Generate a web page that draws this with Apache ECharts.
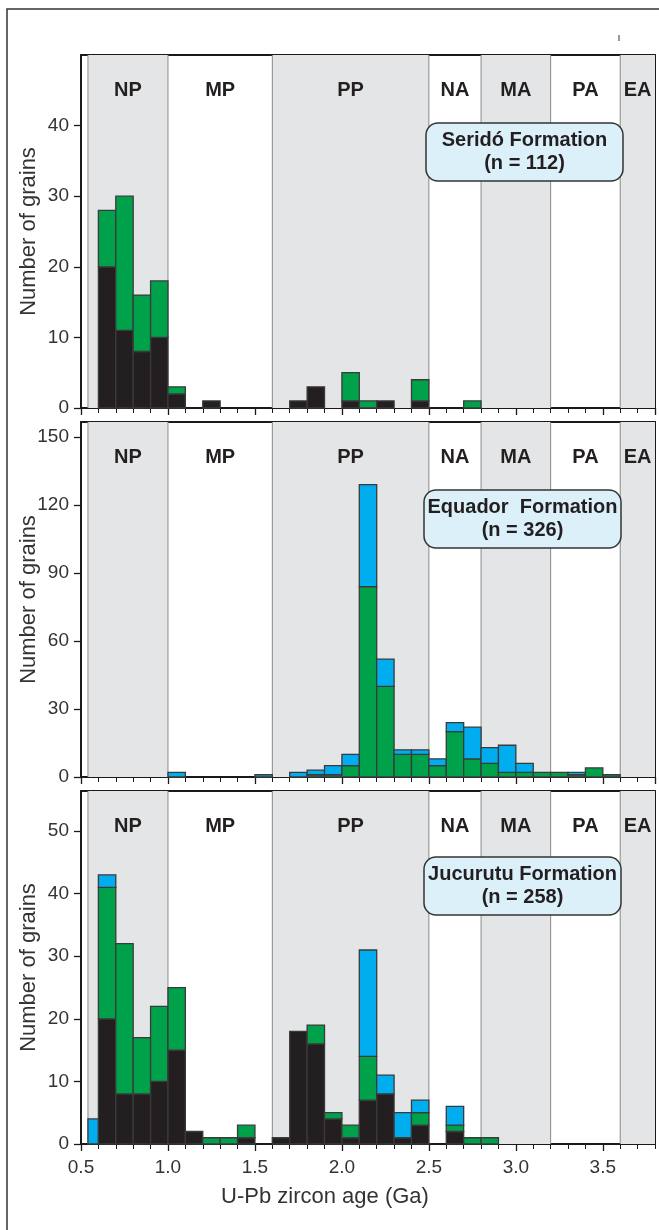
<!DOCTYPE html>
<html><head><meta charset="utf-8">
<script src="https://cdn.jsdelivr.net/npm/echarts@6.0.0/dist/echarts.min.js"></script>
<style>html,body{margin:0;padding:0;background:#fff}#c{width:659px;height:1230px}</style>
</head><body><div id="c"></div>
<script>
// ---- data ----
const binLo = [0.54,0.6,0.7,0.8,0.9,1.0,1.1,1.2,1.3,1.4,1.5,1.6,1.7,1.8,1.9,2.0,2.1,2.2,2.3,2.4,2.5,2.6,2.7,2.8,2.9,3.0,3.1,3.2,3.3,3.4,3.5];
const binHi = [0.6,0.7,0.8,0.9,1.0,1.1,1.2,1.3,1.4,1.5,1.6,1.7,1.8,1.9,2.0,2.1,2.2,2.3,2.4,2.5,2.6,2.7,2.8,2.9,3.0,3.1,3.2,3.3,3.4,3.5,3.6];

const seridoBlack = [0,20,11,8,10,2,0,1,0,0,0,0,1,3,0,1,0,1,0,1,0,0,0,0,0,0,0,0,0,0,0];
const seridoGreen = [0,8,19,8,8,1,0,0,0,0,0,0,0,0,0,4,1,0,0,3,0,0,1,0,0,0,0,0,0,0,0];
const seridoBlue  = [0,0,0,0,0,0,0,0,0,0,0,0,0,0,0,0,0,0,0,0,0,0,0,0,0,0,0,0,0,0,0];

const equadorBlack = [0,0,0,0,0,0,0,0,0,0,0,0,0,0,0,0,0,0,0,0,0,0,0,0,0,0,0,0,0,0,0];
const equadorGreen = [0,0,0,0,0,0,0,0,0,0,0,0,0,1,1,5,84,40,10,10,5,20,8,6,2,2,2,2,1,4,1];
const equadorBlue  = [0,0,0,0,0,2,0,0,0,0,1,0,2,2,4,5,45,12,2,2,3,4,14,7,12,4,0,0,1,0,0];

const jucurutuBlack = [0,20,8,8,10,15,2,0,0,1,0,1,18,16,4,1,7,8,1,3,0,2,0,0,0,0,0,0,0,0,0];
const jucurutuGreen = [0,21,24,9,12,10,0,1,1,2,0,0,0,3,1,2,7,0,0,2,0,1,1,1,0,0,0,0,0,0,0];
const jucurutuBlue  = [4,2,0,0,0,0,0,0,0,0,0,0,0,0,0,0,17,3,4,2,0,3,0,0,0,0,0,0,0,0,0];

const bandStart = [0.54,1.0,1.6,2.5,2.8,3.2,3.6];
const bandEnd   = [1.0,1.6,2.5,2.8,3.2,3.6,3.8];
const bandLabel = ['NP','MP','PP','NA','MA','PA','EA'];
const bandShaded = [1,0,1,0,1,0,1];

const xTickLabels = ['0.5','1.0','1.5','2.0','2.5','3.0','3.5'];
const panelNames = ['Seridó Formation\n(n = 112)','Equador  Formation\n(n = 326)','Jucurutu Formation\n(n = 258)'];
const yMaxes = [50, 156.6, 56.4];
const yMajor = [10, 30, 10];
const yMinor = [2, 10, 2];

// ---- styling ----
const BLACK='#231f20', GREEN='#00a14b', BLUE='#00aeef', EDGE='#3a3a3a';
const FONT='"Liberation Sans", Arial, sans-serif';
const tops=[55,422,791], heights=[353,355,353];

const panels=[[seridoBlack,seridoGreen,seridoBlue],[equadorBlack,equadorGreen,equadorBlue],[jucurutuBlack,jucurutuGreen,jucurutuBlue]];

const chart=echarts.init(document.getElementById('c'),null,{renderer:'canvas'});
const grid=[],xAxis=[],yAxis=[],series=[];
for(let g=0;g<3;g++){
  grid.push({left:81,right:4,top:tops[g],height:heights[g],containLabel:false,outerBoundsMode:'none'});
  // major x
  xAxis.push({gridIndex:g,type:'value',min:0.5,max:3.8,interval:0.5,
    axisLine:{show:true,onZero:false,lineStyle:{color:'#1a1a1a',width:2}},
    axisTick:{show:true,inside:false,length:7,lineStyle:{color:'#1a1a1a',width:1.3}},
    axisLabel:{show:g===2,margin:14,fontSize:19,color:'#333',fontFamily:FONT,showMaxLabel:false,showMinLabel:true,
      formatter:function(v){const i=Math.round((v-0.5)/0.5);return xTickLabels[i]!==undefined && Math.abs(v-(0.5+i*0.5))<1e-6?xTickLabels[i]:'';}},
    splitLine:{show:false}});
  // minor x
  xAxis.push({gridIndex:g,type:'value',min:0.5,max:3.8,interval:0.1,
    axisLine:{show:false},axisTick:{show:true,inside:true,length:5,lineStyle:{color:'#1a1a1a',width:1}},
    axisLabel:{show:false},splitLine:{show:false}});
  // top border
  xAxis.push({gridIndex:g,type:'value',position:'top',min:0.5,max:3.8,
    axisLine:{show:true,onZero:false,lineStyle:{color:'#1a1a1a',width:2}},axisTick:{show:false},axisLabel:{show:false},splitLine:{show:false}});
  // major y
  yAxis.push({gridIndex:g,type:'value',min:0,max:yMaxes[g],interval:yMajor[g],
    name:'Number of grains',nameLocation:'middle',nameGap:41,nameMoveOverlap:false,
    nameTextStyle:{fontSize:22,color:'#333',fontFamily:FONT},
    axisLine:{show:true,onZero:false,lineStyle:{color:'#1a1a1a',width:2}},
    axisTick:{show:true,inside:false,length:7,lineStyle:{color:'#1a1a1a',width:1.3}},
    axisLabel:{margin:12,fontSize:19,color:'#333',fontFamily:FONT,showMaxLabel:false},
    splitLine:{show:false}});
  // minor y
  yAxis.push({gridIndex:g,type:'value',min:0,max:yMaxes[g],interval:yMinor[g],
    axisLine:{show:false},axisTick:{show:true,inside:true,length:6,lineStyle:{color:'#1a1a1a',width:1}},
    axisLabel:{show:false},splitLine:{show:false}});
  // right border
  yAxis.push({gridIndex:g,type:'value',position:'right',min:0,max:yMaxes[g],
    axisLine:{show:true,onZero:false,lineStyle:{color:'#1a1a1a',width:2}},axisTick:{show:false},axisLabel:{show:false},splitLine:{show:false}});

  // bands
  series.push({type:'custom',xAxisIndex:g*3,yAxisIndex:g*3,z:1,silent:true,
    data:bandStart.map((s,i)=>[s,bandEnd[i],bandShaded[i]]),
    encode:{x:[0,1]},
    renderItem:function(params,api){
      const cs=params.coordSys;
      const x0=api.coord([api.value(0),0])[0], x1=api.coord([api.value(1),0])[0];
      const children=[];
      if(api.value(2)) children.push({type:'rect',shape:{x:x0,y:cs.y,width:x1-x0,height:cs.height},style:{fill:'#e4e5e7'}});
      children.push({type:'line',shape:{x1:x0,y1:cs.y,x2:x0,y2:cs.y+cs.height},style:{stroke:'#8a8a8a',lineWidth:1}});
      children.push({type:'text',style:{text:bandLabel[params.dataIndex],x:(x0+x1)/2,y:cs.y+35,align:'center',verticalAlign:'middle',
        font:'bold 20px '+FONT,fill:'#231f20'}});
      return {type:'group',children};
    }});
  // stacked histogram
  const [bk,gr,bl]=panels[g];
  series.push({type:'custom',xAxisIndex:g*3,yAxisIndex:g*3,z:3,silent:true,
    data:binLo.map((lo,i)=>[lo,binHi[i],bk[i],gr[i],bl[i]]),
    encode:{x:[0,1],y:[2]},
    renderItem:function(params,api){
      const lo=api.value(0),hi=api.value(1);
      const vals=[api.value(2),api.value(3),api.value(4)];
      const cols=[BLACK,GREEN,BLUE];
      let base=0;const children=[];
      for(let k=0;k<3;k++){
        const v=vals[k]; if(!v) continue;
        const p0=api.coord([lo,base]), p1=api.coord([hi,base+v]);
        children.push({type:'rect',shape:{x:p0[0],y:p1[1],width:p1[0]-p0[0],height:p0[1]-p1[1]},
          style:{fill:cols[k],stroke:EDGE,lineWidth:1.3}});
        base+=v;
      }
      return {type:'group',children};
    }});
}

const boxes=[{x:426,y:123},{x:424,y:490},{x:424,y:857}];
const graphic=[
  {type:'rect',shape:{x:7,y:9,width:670,height:1240},style:{fill:'none',stroke:'#333',lineWidth:1.5},z:10},
  {type:'line',shape:{x1:619,y1:35,x2:619,y2:41},style:{stroke:'#333',lineWidth:1},z:10},
  {type:'text',style:{text:'U-Pb zircon age (Ga)',x:325,y:1197,align:'center',verticalAlign:'middle',font:'22px '+FONT,fill:'#333'},z:10}
];
boxes.forEach((b,i)=>{
  graphic.push({type:'rect',z:20,shape:{x:b.x,y:b.y,width:197,height:58,r:12},style:{fill:'#dcf0fa',stroke:'#333',lineWidth:1.5}});
  graphic.push({type:'text',z:21,style:{text:panelNames[i],x:b.x+98.5,y:b.y+29,align:'center',verticalAlign:'middle',
      font:'bold 20px '+FONT,fill:'#231f20',lineHeight:23}});
});

chart.setOption({animation:false,backgroundColor:'#fff',grid,xAxis,yAxis,series,graphic});
</script></body></html>
